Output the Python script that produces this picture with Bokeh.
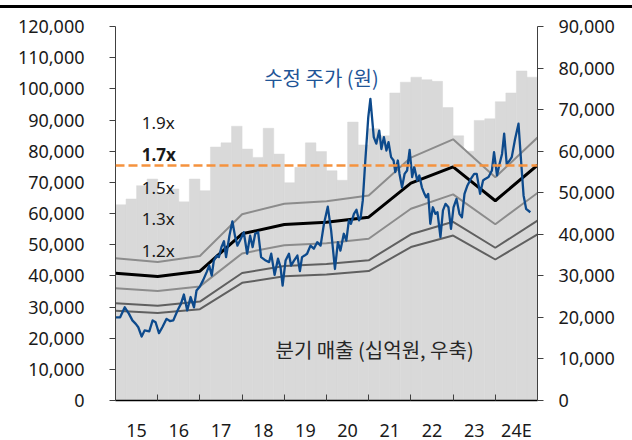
from bokeh.plotting import figure
from bokeh.models import (Range1d, LinearAxis, FixedTicker, NumeralTickFormatter,
                          Label, Span, Spacer)
from bokeh.layouts import column
from bokeh.embed import file_html
from bokeh.resources import INLINE

# ---------------- data ----------------
years = list(range(2015, 2025))
year_labels = ["15", "16", "17", "18", "19", "20", "21", "22", "23", "24E"]

# quarterly sales (십억원, right axis), 2015Q1 .. 2024Q4E
sales = [47100, 48500, 51700, 53300,
         49800, 50900, 47800, 53300,
         50500, 61000, 62000, 66000,
         60500, 58500, 65500, 59300,
         52400, 56100, 62000, 59900,
         55300, 53000, 67000, 61500,
         65400, 63700, 74000, 76600,
         77800, 77200, 76800, 70500,
         63700, 60000, 67400, 67800,
         71900, 74000, 79300, 77800]

# book value per share at year boundaries (원)
band_dates = list(range(2015, 2026))
bps = [24030, 23400, 24410, 31460, 33220, 33660, 34600, 41020, 44100, 37700, 44400]
multiples = [1.2, 1.3, 1.5, 1.9, 1.7]
multiple_labels = ["1.2x", "1.3x", "1.5x", "1.7x", "1.9x"]

# adjusted share price (원)
price_dates = [
    2015.00, 2015.11, 2015.22, 2015.32, 2015.40, 2015.48, 2015.54, 2015.62, 2015.69, 2015.80, 2015.88, 2015.95,
    2016.03, 2016.11, 2016.21, 2016.29, 2016.37, 2016.47, 2016.55, 2016.62, 2016.70, 2016.78, 2016.86, 2016.92,
    2017.00, 2017.08, 2017.16, 2017.22, 2017.28, 2017.33, 2017.40, 2017.45, 2017.51, 2017.57, 2017.62, 2017.70,
    2017.77, 2017.83, 2017.89, 2017.97,
    2018.04, 2018.12, 2018.19, 2018.25, 2018.31, 2018.38, 2018.45, 2018.56, 2018.64, 2018.69, 2018.77, 2018.85,
    2018.91, 2018.96,
    2019.03, 2019.11, 2019.16, 2019.23, 2019.31, 2019.37, 2019.42, 2019.48, 2019.54, 2019.62, 2019.70, 2019.78,
    2019.86, 2019.94,
    2020.03, 2020.11, 2020.20, 2020.27, 2020.33, 2020.41, 2020.47, 2020.53, 2020.58, 2020.65, 2020.71, 2020.77,
    2020.81, 2020.86, 2020.92, 2020.99,
    2021.04, 2021.12, 2021.18, 2021.25, 2021.30, 2021.36, 2021.42, 2021.47, 2021.53, 2021.59, 2021.63, 2021.69,
    2021.73, 2021.79, 2021.85, 2021.91, 2021.97,
    2022.03, 2022.08, 2022.15, 2022.20, 2022.26, 2022.32, 2022.36, 2022.41, 2022.46, 2022.52, 2022.58, 2022.63,
    2022.70, 2022.76, 2022.82, 2022.89, 2022.95,
    2023.01, 2023.08, 2023.15, 2023.21, 2023.27, 2023.34, 2023.42, 2023.50, 2023.56, 2023.64, 2023.71, 2023.76,
    2023.84, 2023.92, 2023.97,
    2024.04, 2024.10, 2024.16, 2024.21, 2024.27, 2024.34, 2024.39, 2024.47, 2024.55, 2024.61, 2024.67, 2024.73,
    2024.83]
prices = [
    26700, 26700, 29900, 27800, 25700, 24600, 23500, 20500, 22500, 22200, 25700, 25100,
    21600, 23500, 26200, 25500, 25700, 28900, 31000, 34000, 28900, 33200, 29900, 35300,
    36600, 38700, 41200, 43300, 40100, 44900, 46500, 46000, 49200, 51100, 46000, 52900,
    57500, 52900, 49700, 51900,
    54000, 47100, 52900, 49200, 53500, 54000, 46000, 44900, 44400, 47100, 40300, 45500,
    42800, 36900,
    44900, 47100, 43300, 44900, 46500, 41500, 46000, 46500, 47100, 49700, 48700, 50800,
    49700, 56700,
    62200, 54500, 42200, 50800, 48100, 53500, 51300, 57800, 56700, 59900, 61200, 57800,
    58800, 64200, 77000, 90900,
    96800, 84500, 82400, 86600, 80700, 84500, 80200, 82900, 78100, 77000, 73300, 77000,
    72700, 68400, 72700, 73800, 80400,
    71700, 74900, 70600, 72200, 68400, 66300, 65200, 66300, 56700, 62000, 59900, 60400,
    52400, 61000, 63100, 62000, 55100,
    62000, 64700, 59900, 58800, 66300, 69000, 71100, 72700, 72700, 66300, 70600, 71100,
    71700, 73800, 79700,
    72200, 75900, 79100, 85600, 75900, 77000, 78100, 84000, 88800, 77000, 65800, 61500,
    60400]

target_price = 75400

# ---------------- styling ----------------
NUM_FONT = "Noto Sans"
KR_FONT = "Noto Sans CJK KR"
AX_COLOR = "#404040"
TXT_COLOR = "#1a1a1a"

p = figure(frame_width=422, frame_height=374, output_backend="svg", toolbar_location=None,
           x_range=Range1d(2015, 2025), y_range=Range1d(0, 120000),
           min_border_left=115, min_border_right=95, min_border_top=18, min_border_bottom=40,
           background_fill_color="white", border_fill_color="white")
p.outline_line_color = None
p.grid.visible = False
p.extra_y_ranges = {"right": Range1d(0, 90000)}

# quarterly sales bars
qx = [y + (q + 0.5) / 4 for y in years for q in range(4)]
p.vbar(x=qx, top=sales, width=0.25, bottom=0, y_range_name="right",
       fill_color="#d9d9d9", line_color="#d9d9d9", line_width=0.5)

# PBR bands
band_style = {1.2: ("#606060", 2), 1.3: ("#606060", 2), 1.5: ("#8c8c8c", 2),
              1.9: ("#8c8c8c", 2), 1.7: ("#000000", 3)}
for m in multiples:
    col, w = band_style[m]
    p.line(band_dates, [b * m for b in bps], line_color=col, line_width=w)

# target price dashed line
p.add_layout(Span(location=target_price, dimension="width", line_color="#f5923e",
                  line_width=2.5, line_dash="9 4"))

# share price
p.line(price_dates, prices, line_color="#0d4a8c", line_width=2.3, line_join="round")

# axes
ax = p.yaxis[0]
ax.ticker = FixedTicker(ticks=list(range(0, 120001, 10000)))
ax.formatter = NumeralTickFormatter(format="0,0")
ax.major_tick_in = 0
ax.major_tick_out = 6
ax.minor_tick_in = 0
ax.minor_tick_out = 0
ax.major_label_standoff = 25
ax.axis_line_color = AX_COLOR
ax.major_tick_line_color = AX_COLOR
ax.major_label_text_font = NUM_FONT
ax.major_label_text_font_size = "18px"
ax.major_label_text_color = TXT_COLOR

rax = LinearAxis(y_range_name="right",
                 ticker=FixedTicker(ticks=list(range(0, 90001, 10000))),
                 formatter=NumeralTickFormatter(format="0,0"))
rax.major_tick_in = 0
rax.major_tick_out = 6
rax.minor_tick_in = 0
rax.minor_tick_out = 0
rax.major_label_standoff = 15
rax.axis_line_color = AX_COLOR
rax.major_tick_line_color = AX_COLOR
rax.major_label_text_font = NUM_FONT
rax.major_label_text_font_size = "18px"
rax.major_label_text_color = TXT_COLOR
p.add_layout(rax, "right")

xa = p.xaxis[0]
xa.ticker = FixedTicker(ticks=[y + 0.5 for y in years], minor_ticks=band_dates)
xa.major_label_overrides = {y + 0.5: lab for y, lab in zip(years, year_labels)}
xa.major_tick_in = 0
xa.major_tick_out = 0
xa.minor_tick_in = 6
xa.minor_tick_out = 0
xa.minor_tick_line_color = AX_COLOR
xa.axis_line_color = "#000000"
xa.axis_line_width = 1.5
xa.major_label_standoff = 17
xa.major_label_text_font = NUM_FONT
xa.major_label_text_font_size = "18px"
xa.major_label_text_color = TXT_COLOR

# band labels
label_pos = {"1.9x": 89200, "1.7x": 78900, "1.5x": 68300, "1.3x": 58400, "1.2x": 48100}
for lab, yv in label_pos.items():
    p.add_layout(Label(x=2015.62, y=yv, text=lab, text_font=NUM_FONT,
                       text_font_size="17px", text_baseline="middle", text_align="left",
                       text_color=TXT_COLOR,
                       text_font_style="bold" if lab == "1.7x" else "normal"))

p.add_layout(Label(x=2019.88, y=103600, text="수정 주가 (원)", text_font=KR_FONT,
                   text_font_size="20px", text_baseline="middle", text_align="center",
                   text_color="#1f5597"))
p.add_layout(Label(x=2021.14, y=16400, text="분기 매출 (십억원, 우축)", text_font=KR_FONT,
                   text_font_size="20px", text_baseline="middle", text_align="center",
                   text_color="#262626"))

# top rule above the chart
gap = Spacer(width=632, height=5)
rule = Spacer(width=632, height=3, styles={"background-color": "black"})
layout = column(gap, rule, p, spacing=0)

open("out.html", "w").write(file_html(layout, INLINE))
